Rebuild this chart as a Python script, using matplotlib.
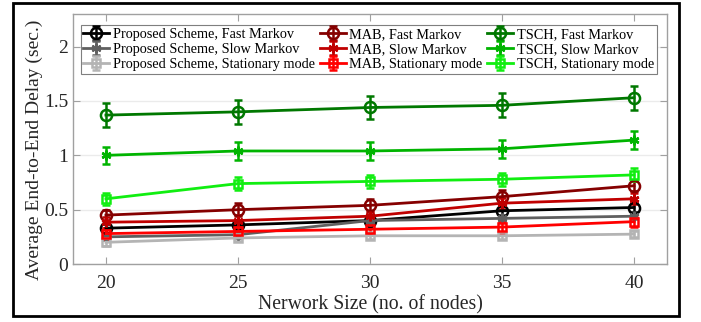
import matplotlib
matplotlib.use("Agg")
import matplotlib.pyplot as plt
from matplotlib.patches import Rectangle

plt.rcParams['font.family'] = ['Liberation Serif', 'DejaVu Serif']

nodes = [20, 25, 30, 35, 40]

prop_fast = [0.33, 0.36, 0.40, 0.49, 0.52]
prop_slow = [0.25, 0.27, 0.40, 0.42, 0.44]
prop_stat = [0.20, 0.24, 0.26, 0.26, 0.275]
mab_fast = [0.45, 0.50, 0.54, 0.62, 0.72]
mab_slow = [0.385, 0.40, 0.44, 0.56, 0.60]
mab_stat = [0.28, 0.30, 0.32, 0.34, 0.39]
tsch_fast = [1.37, 1.40, 1.44, 1.46, 1.53]
tsch_slow = [1.00, 1.04, 1.04, 1.06, 1.14]
tsch_stat = [0.60, 0.74, 0.76, 0.78, 0.82]

err_prop_fast = [0.04, 0.04, 0.04, 0.04, 0.04]
err_prop_slow = [0.03, 0.03, 0.03, 0.03, 0.03]
err_prop_stat = [0.03, 0.03, 0.03, 0.03, 0.03]
err_mab_fast = [0.05, 0.06, 0.06, 0.06, 0.05]
err_mab_slow = [0.05, 0.05, 0.05, 0.05, 0.05]
err_mab_stat = [0.05, 0.05, 0.05, 0.05, 0.05]
err_tsch_fast = [0.11, 0.11, 0.11, 0.11, 0.11]
err_tsch_slow = [0.08, 0.08, 0.08, 0.08, 0.08]
err_tsch_stat = [0.055, 0.06, 0.06, 0.06, 0.06]

labels = ['Proposed Scheme, Fast Markov', 'Proposed Scheme, Slow Markov',
          'Proposed Scheme, Stationary mode',
          'MAB, Fast Markov', 'MAB, Slow Markov', 'MAB, Stationary mode',
          'TSCH, Fast Markov', 'TSCH, Slow Markov', 'TSCH, Stationary mode']
series = [prop_fast, prop_slow, prop_stat, mab_fast, mab_slow, mab_stat,
          tsch_fast, tsch_slow, tsch_stat]
errors = [err_prop_fast, err_prop_slow, err_prop_stat, err_mab_fast, err_mab_slow,
          err_mab_stat, err_tsch_fast, err_tsch_slow, err_tsch_stat]
colors = ['#000000', '#5f5f5f', '#b4b4b4',
          '#850000', '#c00000', '#ff0000',
          '#007800', '#00b400', '#11ee11']
asterisk = (6, 2, 0)
markers = ['o', asterisk, 's', 'o', asterisk, 's', 'o', asterisk, 's']
msizes = [8, 7, 6, 8, 7, 6, 8, 7, 6]

fig = plt.figure(figsize=(7.01, 3.22), dpi=100)
ax = fig.add_axes([0.104, 0.180, 0.8475, 0.7765])

for y, e, c, m, ms, lab in zip(series, errors, colors, markers, msizes, labels):
    ax.errorbar(nodes, y, yerr=e, color=c, marker=m, markersize=ms,
                markerfacecolor='none', markeredgecolor=c, markeredgewidth=1.8,
                linewidth=2, elinewidth=1.8, capsize=3, capthick=1.8, label=lab)

ax.set_xlim(18.75, 41.25)
ax.set_ylim(0, 2.3)
ax.set_xticks(nodes)
ax.set_yticks([0, 0.5, 1, 1.5, 2])
ax.set_yticklabels(['0', '0.5', '1', '1.5', '2'])
ax.yaxis.grid(True, color='#ebebeb', linewidth=1)
ax.set_axisbelow(True)
for s in ax.spines.values():
    s.set_color('#a0a0a0')
    s.set_linewidth(1)
ax.tick_params(direction='in', top=True, right=True, color='#a0a0a0',
               labelsize=14, length=5, labelcolor='#262626')
ax.tick_params(axis='x', pad=8)
ax.set_xlabel('Nerwork Size (no. of nodes)', fontsize=14.2, color='#262626', labelpad=2)
ax.set_ylabel('Average End-to-End Delay (sec.)', fontsize=14.0, color='#262626')
ax.yaxis.set_label_coords(-0.05, 0.455)

leg = ax.legend(ncol=3, loc='upper left', bbox_to_anchor=(0.013, 0.956), fontsize=10.3,
                frameon=True, fancybox=False, edgecolor='#7f7f7f', framealpha=1,
                handlelength=1.8, handletextpad=0.25, columnspacing=0.35,
                labelspacing=0.15, borderpad=0.2, borderaxespad=0)
leg.get_frame().set_linewidth(0.8)

fig.patches.append(Rectangle((0.0185, 0.019), 0.95, 0.972, transform=fig.transFigure,
                             fill=False, edgecolor='black', linewidth=2, zorder=10))

fig.savefig('out.png', dpi=100)
